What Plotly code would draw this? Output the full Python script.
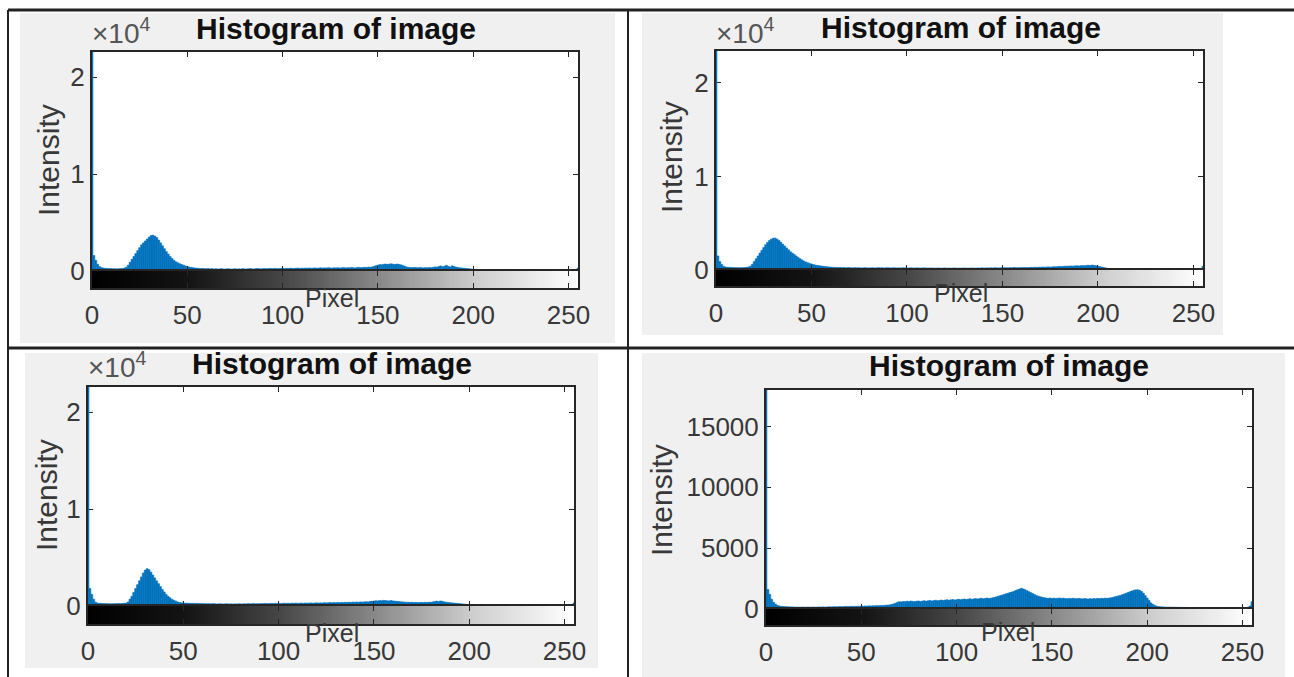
import plotly.graph_objects as go

W, H = 1294, 677

# ---------------- data ----------------
PIXELS = list(range(256))

H1 = [40000, 1600, 1100, 700, 450, 350, 300, 280, 260, 250, 240, 230, 230, 220, 230, 240,
      250, 300, 400, 600, 900, 1200, 1500, 1800, 2100, 2400, 2700, 2900, 3100, 3300, 3500, 3650,
      3700, 3600, 3450, 3200, 2900, 2600, 2300, 2000, 1750, 1500, 1300, 1100, 950, 850, 750, 680,
      600, 520, 460, 410, 370, 340, 310, 290, 270, 250, 260, 240, 230, 250, 220, 240,
      210, 230, 200, 220, 240, 210, 200, 230, 220, 190, 210, 230, 200, 220, 210, 240,
      220, 200, 230, 250, 220, 210, 240, 260, 230, 220, 250, 240, 230, 260, 250, 240,
      270, 250, 240, 260, 280, 250, 270, 260, 290, 270, 260, 280, 300, 270, 290, 280,
      300, 290, 310, 280, 300, 320, 290, 310, 330, 300, 320, 310, 340, 320, 300, 330,
      320, 340, 310, 330, 350, 320, 340, 330, 360, 340, 320, 350, 370, 340, 360, 380,
      360, 400, 380, 420, 480, 540, 600, 660, 640, 690, 720, 680, 710, 740, 700, 680,
      720, 680, 640, 580, 500, 420, 380, 360, 340, 370, 350, 330, 360, 340, 320, 350,
      330, 360, 340, 380, 420, 390, 460, 520, 440, 500, 580, 480, 420, 540, 460, 400,
      360, 330, 310, 290, 270, 250, 230, 210, 190, 170, 150, 130, 120, 110, 100, 90,
      90, 85, 80, 80, 75, 70, 70, 65, 60, 60, 55, 50, 50, 45, 45, 40,
      40, 40, 35, 35, 35, 30, 30, 30, 30, 25, 25, 25, 25, 20, 20, 20,
      20, 20, 20, 20, 20, 20, 20, 20, 20, 20, 20, 20, 20, 30, 50, 300]

H2 = [40000, 1500, 900, 600, 400, 320, 300, 280, 270, 260, 250, 250, 240, 240, 250, 260,
      280, 320, 400, 600, 900, 1200, 1500, 1800, 2100, 2400, 2700, 2950, 3150, 3300, 3400, 3400,
      3300, 3150, 2950, 2750, 2550, 2350, 2150, 1950, 1800, 1650, 1500, 1350, 1200, 1080, 960, 860,
      780, 700, 640, 580, 530, 490, 460, 430, 400, 370, 350, 330, 310, 290, 280, 270,
      260, 270, 250, 260, 240, 250, 260, 230, 240, 250, 230, 240, 220, 230, 240, 230,
      220, 230, 240, 220, 230, 250, 230, 240, 220, 230, 240, 230, 220, 240, 230, 220,
      230, 220, 240, 230, 210, 220, 230, 220, 210, 230, 220, 210, 220, 230, 210, 220,
      210, 220, 210, 200, 220, 210, 200, 210, 220, 200, 210, 200, 210, 220, 200, 210,
      200, 210, 220, 200, 210, 200, 220, 210, 200, 220, 210, 230, 220, 210, 230, 220,
      230, 220, 240, 230, 220, 240, 230, 250, 240, 230, 250, 240, 260, 250, 240, 260,
      250, 270, 260, 250, 270, 280, 270, 290, 280, 300, 290, 310, 300, 320, 330, 310,
      330, 350, 340, 360, 380, 370, 390, 410, 400, 420, 430, 410, 440, 450, 430, 460,
      470, 450, 490, 510, 480, 530, 490, 450, 410, 360, 310, 260, 220, 180, 150, 130,
      120, 110, 100, 95, 90, 85, 80, 80, 75, 70, 70, 65, 60, 60, 55, 55,
      50, 50, 45, 45, 45, 40, 40, 40, 35, 35, 35, 30, 30, 30, 30, 30,
      25, 25, 25, 25, 25, 25, 25, 25, 25, 25, 25, 25, 30, 40, 70, 400]

H3 = [40000, 1800, 1200, 700, 400, 300, 270, 260, 250, 240, 240, 230, 230, 230, 240, 240,
      250, 250, 260, 280, 300, 400, 700, 1000, 1400, 1800, 2200, 2600, 3000, 3400, 3700, 3850,
      3750, 3500, 3200, 2900, 2600, 2300, 2000, 1700, 1450, 1200, 1000, 850, 700, 600, 500, 420,
      360, 330, 310, 300, 290, 280, 270, 280, 260, 270, 250, 260, 240, 250, 230, 240,
      220, 230, 240, 220, 210, 230, 220, 210, 220, 230, 210, 220, 200, 220, 210, 230,
      220, 210, 230, 220, 240, 220, 230, 250, 220, 240, 230, 250, 240, 260, 250, 240,
      260, 250, 270, 260, 280, 250, 270, 290, 260, 280, 270, 290, 280, 300, 270, 290,
      300, 280, 310, 290, 300, 320, 290, 310, 330, 300, 320, 310, 340, 320, 330, 350,
      330, 350, 340, 360, 340, 370, 350, 380, 360, 390, 370, 400, 380, 410, 390, 420,
      400, 420, 440, 420, 460, 480, 500, 540, 520, 560, 540, 580, 560, 540, 520, 560,
      520, 500, 480, 460, 440, 420, 400, 380, 390, 370, 380, 360, 370, 350, 360, 370,
      350, 380, 360, 390, 380, 420, 460, 500, 440, 520, 480, 420, 380, 360, 340, 320,
      300, 280, 260, 240, 220, 200, 180, 160, 150, 130, 120, 110, 100, 90, 85, 80,
      75, 75, 70, 65, 65, 60, 55, 55, 50, 50, 45, 45, 40, 40, 35, 35,
      35, 30, 30, 30, 25, 25, 25, 25, 20, 20, 20, 20, 20, 20, 20, 20,
      20, 20, 20, 20, 20, 20, 20, 20, 20, 20, 20, 20, 20, 30, 50, 300]

H4 = [40000, 1600, 1200, 800, 550, 400, 300, 250, 220, 200, 190, 180, 180, 170, 170, 160,
      160, 160, 150, 160, 150, 150, 160, 150, 150, 160, 150, 160, 170, 160, 170, 160,
      170, 180, 170, 180, 190, 180, 190, 200, 190, 200, 210, 200, 210, 220, 210, 220,
      230, 220, 240, 230, 250, 240, 260, 250, 270, 260, 280, 270, 290, 280, 300, 310,
      320, 340, 380, 420, 480, 550, 600, 580, 620, 600, 640, 610, 650, 630, 600, 640,
      660, 620, 650, 680, 640, 670, 700, 660, 690, 720, 680, 700, 740, 700, 730, 760,
      720, 750, 780, 740, 760, 800, 760, 790, 820, 780, 810, 840, 800, 830, 860, 820,
      850, 880, 840, 870, 900, 860, 890, 920, 960, 1000, 1050, 1100, 1150, 1200, 1250, 1300,
      1350, 1400, 1450, 1520, 1580, 1640, 1700, 1650, 1580, 1500, 1420, 1340, 1260, 1180, 1100, 1050,
      1000, 960, 930, 900, 880, 900, 870, 890, 860, 880, 900, 870, 890, 860, 840, 870,
      850, 880, 860, 840, 870, 850, 830, 860, 840, 820, 850, 830, 860, 840, 870, 850,
      880, 860, 890, 870, 900, 920, 950, 1000, 1040, 1080, 1120, 1180, 1240, 1300, 1360, 1420,
      1480, 1530, 1570, 1580, 1540, 1450, 1300, 1100, 900, 700, 500, 380, 290, 230, 200, 180,
      170, 160, 160, 150, 150, 150, 140, 140, 140, 130, 130, 130, 130, 120, 120, 120,
      120, 120, 110, 110, 110, 110, 110, 100, 100, 100, 100, 100, 100, 100, 100, 100,
      100, 100, 100, 100, 100, 100, 100, 100, 100, 100, 100, 100, 110, 150, 250, 600]

HISTS = [H1, H2, H3, H4]
TITLES = ["Histogram of image", "Histogram of image", "Histogram of image", "Histogram of image"]
X_LABEL = "Pixel"
Y_LABEL = "Intensity"
Y_MAX = [22600, 23400, 22600, 18000]
Y_TICKVALS = [[0, 10000, 20000], [0, 10000, 20000], [0, 10000, 20000], [0, 5000, 10000, 15000]]
Y_TICKTEXT = [["0", "1", "2"], ["0", "1", "2"], ["0", "1", "2"], ["0", "5000", "10000", "15000"]]
EXPONENT = ["×10<sup>4</sup>", "×10<sup>4</sup>", "×10<sup>4</sup>", ""]
X_TICKS = [0, 50, 100, 150, 200, 250]
X_RANGE = [0, 255]

# ---------------- layout geometry (pixels) ----------------
PANELS = [
    dict(x0=92, x1=578, top=52, zero=271, bot=288,
         title=(336, 28), expo=(90, 31), ylab=(48, 160), xlab=(332, 298),
         bg=(20, 13, 615, 343)),
    dict(x0=716, x1=1203, top=51, zero=270, bot=286,
         title=(961, 27), expo=(714, 31), ylab=(671, 157), xlab=(961, 293),
         bg=(642, 13, 1223, 335)),
    dict(x0=88, x1=574, top=387, zero=606, bot=624,
         title=(332, 363), expo=(86, 365), ylab=(46, 495), xlab=(332, 633),
         bg=(25, 353, 598, 668)),
    dict(x0=766, x1=1252, top=390, zero=609, bot=625,
         title=(1009, 365), expo=None, ylab=(661, 500), xlab=(1008, 632),
         bg=(642, 353, 1285, 677)),
]

FONT = "Liberation Sans, Arial, Helvetica, sans-serif"
TXT = "#383838"
LINE = "#262626"
BLUE = "#0072BD"
GRAY_SCALE = [[0.0, "#000000"], [0.2, "#141414"], [0.4, "#484848"], [0.6, "#8c8c8c"],
              [0.8, "#d0d0d0"], [1.0, "#ffffff"]]


def px(x):
    return x / W


def py(y):
    return 1 - y / H


fig = go.Figure()
layout = dict(
    width=W, height=H, margin=dict(l=0, r=0, t=0, b=0, pad=0, autoexpand=False),
    paper_bgcolor="white", plot_bgcolor="white", showlegend=False,
    font=dict(family=FONT, color=TXT),
)
shapes = []
annotations = []

for i, (p, hist) in enumerate(zip(PANELS, HISTS)):
    nh = 2 * i + 1
    ns = 2 * i + 2
    xh, yh = f"x{nh}", f"y{nh}"
    xs, ys = f"x{ns}", f"y{ns}"
    kh = "" if nh == 1 else str(nh)
    ks = str(ns)

    fig.add_trace(go.Bar(x=PIXELS, y=hist, width=1,
                         marker=dict(color=BLUE, line=dict(width=0.6, color=BLUE)),
                         xaxis=xh, yaxis=yh, hoverinfo="skip"))
    fig.add_trace(go.Heatmap(x=PIXELS, y=[0], z=[PIXELS], zmin=0, zmax=255,
                             colorscale=GRAY_SCALE, showscale=False,
                             xaxis=xs, yaxis=ys, hoverinfo="skip"))

    xdom = [px(p["x0"]), px(p["x1"])]
    common = dict(showline=True, linecolor=LINE, linewidth=2, mirror="ticks",
                  showgrid=False, zeroline=False, ticks="inside", ticklen=5,
                  tickcolor=LINE, tickwidth=1)
    layout["xaxis" + kh] = dict(domain=xdom, range=X_RANGE, anchor=yh, tickvals=X_TICKS,
                                showticklabels=False, **common)
    layout["yaxis" + kh] = dict(domain=[py(p["zero"]), py(p["top"])], range=[0, Y_MAX[i]],
                                anchor=xh, tickvals=Y_TICKVALS[i], ticktext=Y_TICKTEXT[i],
                                tickfont=dict(size=26, color=TXT), layer="below traces", **common)
    layout["xaxis" + ks] = dict(domain=xdom, range=X_RANGE, anchor=ys, tickvals=X_TICKS,
                                tickfont=dict(size=26, color=TXT), ticklabelstandoff=3, **common)
    layout["yaxis" + ks] = dict(domain=[py(p["bot"]), py(p["zero"])], range=[-0.5, 0.5],
                                anchor=xs, showticklabels=False, showline=True, linecolor=LINE,
                                linewidth=2, mirror=True, showgrid=False, zeroline=False, ticks="")

    # panel (figure) background, then white axes area on top of it
    bx0, by0, bx1, by1 = p["bg"]
    shapes.append(dict(type="rect", xref="paper", yref="paper", x0=px(bx0), x1=px(bx1),
                       y0=py(by1), y1=py(by0), fillcolor="#f0f0f0", line=dict(width=0),
                       layer="below"))
    shapes.append(dict(type="rect", xref="paper", yref="paper", x0=px(p["x0"]), x1=px(p["x1"]),
                       y0=py(p["bot"]), y1=py(p["top"]), fillcolor="white", line=dict(width=0),
                       layer="below"))

    tx, ty = p["title"]
    annotations.append(dict(xref="paper", yref="paper", x=px(tx), y=py(ty), text="<b>" + TITLES[i] + "</b>",
                            showarrow=False, xanchor="center", yanchor="middle",
                            font=dict(size=30, color="#111111", family=FONT)))
    if EXPONENT[i]:
        ex, ey = p["expo"]
        annotations.append(dict(xref="paper", yref="paper", x=px(ex), y=py(ey), text=EXPONENT[i],
                                showarrow=False, xanchor="left", yanchor="middle",
                                font=dict(size=28, color="#555555", family=FONT)))
    lx, ly = p["ylab"]
    annotations.append(dict(xref="paper", yref="paper", x=px(lx), y=py(ly), text=Y_LABEL,
                            textangle=-90, showarrow=False, xanchor="center", yanchor="middle",
                            font=dict(size=30, color=TXT, family=FONT)))
    qx, qy = p["xlab"]
    annotations.append(dict(xref="paper", yref="paper", x=px(qx), y=py(qy), text=X_LABEL,
                            showarrow=False, xanchor="center", yanchor="middle",
                            font=dict(size=25, color=TXT, family=FONT)))

# table grid lines
for (x0, y0, x1, y1, w) in [(8, 10, 1294, 10, 3), (8, 10, 8, 677, 2), (628, 10, 628, 677, 2),
                            (8, 348, 1294, 348, 3)]:
    shapes.append(dict(type="line", xref="paper", yref="paper", x0=px(x0), y0=py(y0),
                       x1=px(x1), y1=py(y1), line=dict(color="#222222", width=w)))

layout["shapes"] = shapes
layout["annotations"] = annotations
fig.update_layout(**layout)
fig.write_html("out.html", config={"displayModeBar": False},
               post_script="document.body.style.margin='0px';document.body.style.overflow='hidden';")
